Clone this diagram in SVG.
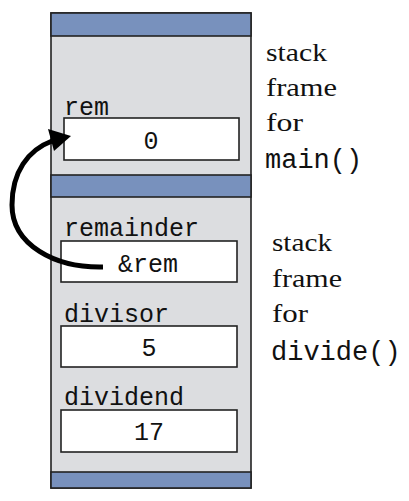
<svg xmlns="http://www.w3.org/2000/svg" width="409" height="501" viewBox="0 0 409 501">
<style>
.frame{fill:#dcdde0;stroke:#222;stroke-width:1.6}
.bar{fill:#7891bd;stroke:#222;stroke-width:1.6}
.box{fill:#fff;stroke:#222;stroke-width:1.6}
.lbl{font-family:'Liberation Mono',monospace;font-size:25px;fill:#111}
.val{font-family:'Liberation Mono',monospace;font-size:25px;fill:#111;text-anchor:middle}
.cap{font-family:'Liberation Serif',serif;font-size:26px;fill:#111}
.fn{font-family:'Liberation Mono',monospace;font-size:27px;fill:#111}
</style>
<rect width="409" height="501" fill="#fff"/>
<g id="stack">
<rect class="frame" x="51" y="13" width="200" height="475"/>
<rect class="bar" x="51" y="13" width="200" height="23"/>
<rect class="bar" x="51" y="175" width="200" height="22"/>
<rect class="bar" x="51" y="472" width="200" height="16"/>
</g>
<g id="rem">
<text class="lbl" x="64" y="115">rem</text>
<rect class="box" x="64" y="118" width="175" height="42"/>
<text class="val" x="151" y="149">0</text>
</g>
<g id="remainder">
<text class="lbl" x="64" y="236">remainder</text>
<rect class="box" x="61" y="241" width="176" height="41"/>
<text class="val" x="148" y="272">&amp;rem</text>
</g>
<g id="divisor">
<text class="lbl" x="64" y="322">divisor</text>
<rect class="box" x="61" y="326" width="176" height="41"/>
<text class="val" x="149" y="356">5</text>
</g>
<g id="dividend">
<text class="lbl" x="64" y="405">dividend</text>
<rect class="box" x="61" y="410" width="176" height="42"/>
<text class="val" x="149" y="440">17</text>
</g>
<g id="main-caption">
<text class="cap" x="266" y="61" textLength="61" lengthAdjust="spacingAndGlyphs">stack</text>
<text class="cap" x="266" y="96" textLength="71" lengthAdjust="spacingAndGlyphs">frame</text>
<text class="cap" x="266" y="131" textLength="37" lengthAdjust="spacingAndGlyphs">for</text>
<text class="fn" x="265" y="168">main()</text>
</g>
<g id="divide-caption">
<text class="cap" x="272" y="251" textLength="60" lengthAdjust="spacingAndGlyphs">stack</text>
<text class="cap" x="272" y="287" textLength="70" lengthAdjust="spacingAndGlyphs">frame</text>
<text class="cap" x="272" y="322" textLength="36" lengthAdjust="spacingAndGlyphs">for</text>
<text class="fn" x="271" y="360">divide()</text>
</g>
<g id="connectors">
<path d="M103,267 C55,268 12,245 12,205 C12,172 28,150 52,141" fill="none" stroke="#000" stroke-width="5"/>
<polygon points="71,136 48,129 54,151" fill="#000"/>
</g>
</svg>
